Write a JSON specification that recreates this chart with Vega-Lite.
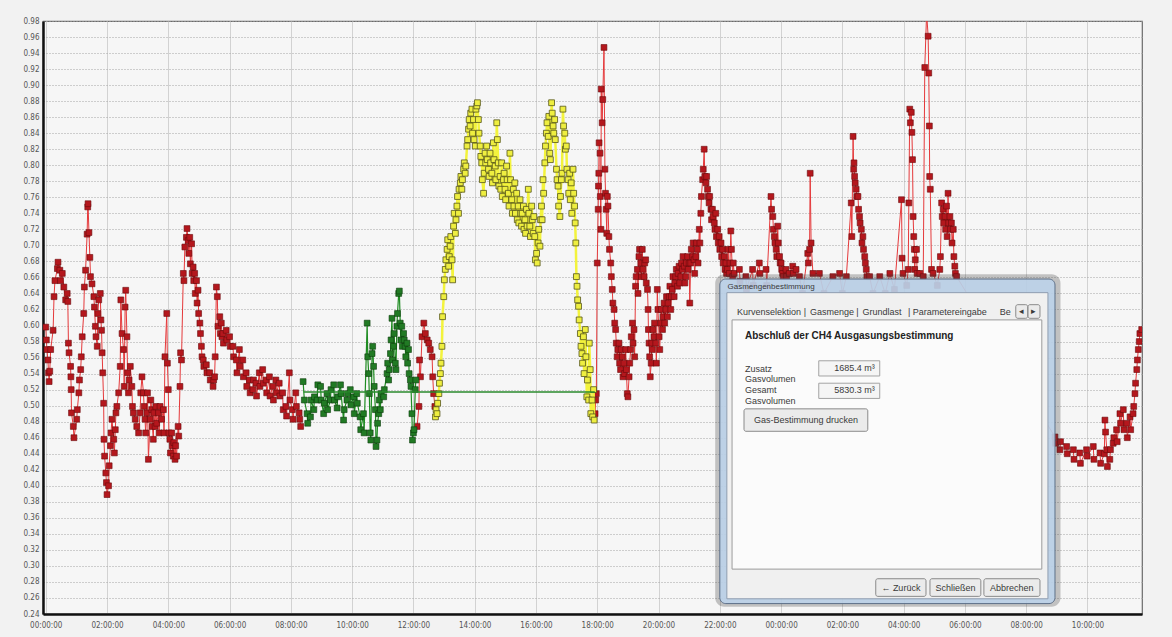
{
"$schema": "https://vega.github.io/schema/vega-lite/v6.json",
"width": 1099, "height": 593,
"autosize": {"type": "none"},
"padding": {"left": 43, "top": 21, "right": 30, "bottom": 23},
"background": "#f2f2f2",
"config": {"view": {"stroke": "#6a6a6a", "strokeWidth": 1.2, "fill": "#f6f6f6"}},
"datasets": {
"red": [
{"s":1,"t":0.00,"v":0.598},{"s":1,"t":0.02,"v":0.582},{"s":1,"t":0.04,"v":0.570},{"s":1,"t":0.07,"v":0.557},{"s":1,"t":0.09,"v":0.541},{"s":1,"t":0.11,"v":0.530},{"s":1,"t":0.13,"v":0.543},{"s":1,"t":0.16,"v":0.570},{"s":1,"t":0.24,"v":0.594},{"s":1,"t":0.27,"v":0.636},{"s":1,"t":0.30,"v":0.656},{"s":1,"t":0.38,"v":0.671},{"s":1,"t":0.40,"v":0.679},{"s":1,"t":0.46,"v":0.669},{"s":1,"t":0.48,"v":0.656},{"s":1,"t":0.54,"v":0.665},{"s":1,"t":0.59,"v":0.648},{"s":1,"t":0.65,"v":0.632},{"s":1,"t":0.70,"v":0.640},{"s":1,"t":0.72,"v":0.630},{"s":1,"t":0.74,"v":0.578},{"s":1,"t":0.76,"v":0.566},{"s":1,"t":0.81,"v":0.549},{"s":1,"t":0.82,"v":0.536},{"s":1,"t":0.83,"v":0.520},{"s":1,"t":0.84,"v":0.491},{"s":1,"t":0.90,"v":0.474},{"s":1,"t":0.92,"v":0.460},{"s":1,"t":1.01,"v":0.483},{"s":1,"t":1.03,"v":0.495},{"s":1,"t":1.08,"v":0.516},{"s":1,"t":1.10,"v":0.532},{"s":1,"t":1.14,"v":0.545},{"s":1,"t":1.16,"v":0.561},{"s":1,"t":1.19,"v":0.586},{"s":1,"t":1.24,"v":0.615},{"s":1,"t":1.26,"v":0.648},{"s":1,"t":1.30,"v":0.669},{"s":1,"t":1.35,"v":0.714},{"s":1,"t":1.37,"v":0.748},{"s":1,"t":1.38,"v":0.752},{"s":1,"t":1.41,"v":0.716},{"s":1,"t":1.44,"v":0.685},{"s":1,"t":1.46,"v":0.661},{"s":1,"t":1.51,"v":0.652},{"s":1,"t":1.57,"v":0.636},{"s":1,"t":1.59,"v":0.623},{"s":1,"t":1.62,"v":0.599},{"s":1,"t":1.64,"v":0.586},{"s":1,"t":1.68,"v":0.574},{"s":1,"t":1.70,"v":0.615},{"s":1,"t":1.73,"v":0.632},{"s":1,"t":1.78,"v":0.640},{"s":1,"t":1.80,"v":0.607},{"s":1,"t":1.82,"v":0.594},{"s":1,"t":1.84,"v":0.566},{"s":1,"t":1.86,"v":0.541},{"s":1,"t":1.89,"v":0.503},{"s":1,"t":1.90,"v":0.458},{"s":1,"t":1.92,"v":0.437},{"s":1,"t":1.96,"v":0.416},{"s":1,"t":1.98,"v":0.404},{"s":1,"t":2.00,"v":0.389},{"s":1,"t":2.05,"v":0.400},{"s":1,"t":2.07,"v":0.425},{"s":1,"t":2.11,"v":0.450},{"s":1,"t":2.13,"v":0.466},{"s":1,"t":2.16,"v":0.483},{"s":1,"t":2.22,"v":0.458},{"s":1,"t":2.24,"v":0.441},{"s":1,"t":2.27,"v":0.470},{"s":1,"t":2.29,"v":0.491},{"s":1,"t":2.32,"v":0.499},{"s":1,"t":2.38,"v":0.516},{"s":1,"t":2.43,"v":0.549},{"s":1,"t":2.45,"v":0.632},{"s":1,"t":2.49,"v":0.590},{"s":1,"t":2.54,"v":0.570},{"s":1,"t":2.56,"v":0.524},{"s":1,"t":2.59,"v":0.623},{"s":1,"t":2.61,"v":0.644},{"s":1,"t":2.65,"v":0.586},{"s":1,"t":2.67,"v":0.541},{"s":1,"t":2.70,"v":0.516},{"s":1,"t":2.72,"v":0.532},{"s":1,"t":2.76,"v":0.549},{"s":1,"t":2.81,"v":0.524},{"s":1,"t":2.83,"v":0.499},{"s":1,"t":2.86,"v":0.491},{"s":1,"t":2.92,"v":0.483},{"s":1,"t":2.97,"v":0.474},{"s":1,"t":3.03,"v":0.466},{"s":1,"t":3.08,"v":0.491},{"s":1,"t":3.10,"v":0.516},{"s":1,"t":3.14,"v":0.536},{"s":1,"t":3.19,"v":0.516},{"s":1,"t":3.21,"v":0.499},{"s":1,"t":3.24,"v":0.483},{"s":1,"t":3.26,"v":0.466},{"s":1,"t":3.30,"v":0.491},{"s":1,"t":3.32,"v":0.516},{"s":1,"t":3.35,"v":0.433},{"s":1,"t":3.41,"v":0.483},{"s":1,"t":3.43,"v":0.507},{"s":1,"t":3.46,"v":0.495},{"s":1,"t":3.48,"v":0.474},{"s":1,"t":3.51,"v":0.458},{"s":1,"t":3.53,"v":0.491},{"s":1,"t":3.57,"v":0.474},{"s":1,"t":3.59,"v":0.499},{"s":1,"t":3.62,"v":0.478},{"s":1,"t":3.68,"v":0.491},{"s":1,"t":3.70,"v":0.466},{"s":1,"t":3.73,"v":0.499},{"s":1,"t":3.78,"v":0.483},{"s":1,"t":3.84,"v":0.495},{"s":1,"t":3.86,"v":0.466},{"s":1,"t":3.89,"v":0.561},{"s":1,"t":3.95,"v":0.615},{"s":1,"t":3.97,"v":0.553},{"s":1,"t":4.00,"v":0.520},{"s":1,"t":4.02,"v":0.466},{"s":1,"t":4.05,"v":0.458},{"s":1,"t":4.07,"v":0.441},{"s":1,"t":4.11,"v":0.466},{"s":1,"t":4.13,"v":0.450},{"s":1,"t":4.16,"v":0.437},{"s":1,"t":4.18,"v":0.454},{"s":1,"t":4.22,"v":0.433},{"s":1,"t":4.24,"v":0.450},{"s":1,"t":4.27,"v":0.437},{"s":1,"t":4.32,"v":0.474},{"s":1,"t":4.34,"v":0.462},{"s":1,"t":4.38,"v":0.524},{"s":1,"t":4.40,"v":0.566},{"s":1,"t":4.43,"v":0.557},{"s":1,"t":4.49,"v":0.665},{"s":1,"t":4.51,"v":0.656},{"s":1,"t":4.54,"v":0.698},{"s":1,"t":4.59,"v":0.710},{"s":1,"t":4.61,"v":0.721},{"s":1,"t":4.65,"v":0.706},{"s":1,"t":4.67,"v":0.690},{"s":1,"t":4.70,"v":0.710},{"s":1,"t":4.72,"v":0.677},{"s":1,"t":4.76,"v":0.702},{"s":1,"t":4.78,"v":0.665},{"s":1,"t":4.81,"v":0.673},{"s":1,"t":4.83,"v":0.656},{"s":1,"t":4.86,"v":0.665},{"s":1,"t":4.88,"v":0.640},{"s":1,"t":4.92,"v":0.656},{"s":1,"t":4.94,"v":0.628},{"s":1,"t":4.97,"v":0.644},{"s":1,"t":4.99,"v":0.615},{"s":1,"t":5.03,"v":0.603},{"s":1,"t":5.05,"v":0.590},{"s":1,"t":5.08,"v":0.574},{"s":1,"t":5.10,"v":0.561},{"s":1,"t":5.14,"v":0.557},{"s":1,"t":5.16,"v":0.549},{"s":1,"t":5.24,"v":0.551},{"s":1,"t":5.26,"v":0.541},{"s":1,"t":5.35,"v":0.541},{"s":1,"t":5.37,"v":0.532},{"s":1,"t":5.46,"v":0.524},{"s":1,"t":5.48,"v":0.532},{"s":1,"t":5.51,"v":0.536},{"s":1,"t":5.53,"v":0.561},{"s":1,"t":5.57,"v":0.648},{"s":1,"t":5.60,"v":0.636},{"s":1,"t":5.62,"v":0.599},{"s":1,"t":5.68,"v":0.611},{"s":1,"t":5.70,"v":0.590},{"s":1,"t":5.73,"v":0.603},{"s":1,"t":5.75,"v":0.586},{"s":1,"t":5.78,"v":0.590},{"s":1,"t":5.80,"v":0.578},{"s":1,"t":5.89,"v":0.594},{"s":1,"t":5.91,"v":0.582},{"s":1,"t":6.00,"v":0.586},{"s":1,"t":6.02,"v":0.574},{"s":1,"t":6.11,"v":0.574},{"s":1,"t":6.13,"v":0.561},{"s":1,"t":6.22,"v":0.557},{"s":1,"t":6.24,"v":0.541},{"s":1,"t":6.32,"v":0.570},{"s":1,"t":6.34,"v":0.549},{"s":1,"t":6.43,"v":0.557},{"s":1,"t":6.45,"v":0.536},{"s":1,"t":6.54,"v":0.541},{"s":1,"t":6.56,"v":0.524},{"s":1,"t":6.65,"v":0.532},{"s":1,"t":6.67,"v":0.516},{"s":1,"t":6.76,"v":0.520},{"s":1,"t":6.78,"v":0.532},{"s":1,"t":6.86,"v":0.528},{"s":1,"t":6.88,"v":0.512},{"s":1,"t":6.97,"v":0.541},{"s":1,"t":6.99,"v":0.524},{"s":1,"t":7.08,"v":0.545},{"s":1,"t":7.10,"v":0.528},{"s":1,"t":7.19,"v":0.532},{"s":1,"t":7.21,"v":0.516},{"s":1,"t":7.30,"v":0.536},{"s":1,"t":7.32,"v":0.512},{"s":1,"t":7.41,"v":0.524},{"s":1,"t":7.43,"v":0.507},{"s":1,"t":7.51,"v":0.532},{"s":1,"t":7.53,"v":0.516},{"s":1,"t":7.62,"v":0.528},{"s":1,"t":7.64,"v":0.512},{"s":1,"t":7.73,"v":0.516},{"s":1,"t":7.75,"v":0.495},{"s":1,"t":7.84,"v":0.499},{"s":1,"t":7.86,"v":0.487},{"s":1,"t":7.95,"v":0.541},{"s":1,"t":7.97,"v":0.507},{"s":1,"t":8.05,"v":0.495},{"s":1,"t":8.07,"v":0.483},{"s":1,"t":8.16,"v":0.516},{"s":1,"t":8.18,"v":0.499},{"s":1,"t":8.27,"v":0.491},{"s":1,"t":8.29,"v":0.483},{"s":1,"t":8.32,"v":0.474},
{"s":2,"t":12.12,"v":0.474},{"s":2,"t":12.18,"v":0.499},{"s":2,"t":12.20,"v":0.557},{"s":2,"t":12.23,"v":0.536},{"s":2,"t":12.28,"v":0.586},{"s":2,"t":12.34,"v":0.603},{"s":2,"t":12.39,"v":0.590},{"s":2,"t":12.45,"v":0.582},{"s":2,"t":12.50,"v":0.578},{"s":2,"t":12.55,"v":0.570},{"s":2,"t":12.61,"v":0.561},{"s":2,"t":12.63,"v":0.536},{"s":2,"t":12.66,"v":0.515},{"s":2,"t":12.70,"v":0.499},
{"s":3,"t":17.93,"v":0.490},{"s":3,"t":17.95,"v":0.507},{"s":3,"t":17.97,"v":0.515},{"s":3,"t":18.00,"v":0.678},{"s":3,"t":18.03,"v":0.745},{"s":3,"t":18.04,"v":0.774},{"s":3,"t":18.05,"v":0.790},{"s":3,"t":18.06,"v":0.828},{"s":3,"t":18.09,"v":0.815},{"s":3,"t":18.10,"v":0.761},{"s":3,"t":18.12,"v":0.720},{"s":3,"t":18.13,"v":0.895},{"s":3,"t":18.16,"v":0.853},{"s":3,"t":18.18,"v":0.882},{"s":3,"t":18.22,"v":0.947},{"s":3,"t":18.25,"v":0.795},{"s":3,"t":18.27,"v":0.765},{"s":3,"t":18.29,"v":0.745},{"s":3,"t":18.31,"v":0.715},{"s":3,"t":18.33,"v":0.761},{"s":3,"t":18.35,"v":0.749},{"s":3,"t":18.38,"v":0.711},{"s":3,"t":18.40,"v":0.695},{"s":3,"t":18.44,"v":0.678},{"s":3,"t":18.46,"v":0.661},{"s":3,"t":18.49,"v":0.645},{"s":3,"t":18.51,"v":0.628},{"s":3,"t":18.55,"v":0.620},{"s":3,"t":18.57,"v":0.603},{"s":3,"t":18.60,"v":0.595},{"s":3,"t":18.62,"v":0.578},{"s":3,"t":18.65,"v":0.561},{"s":3,"t":18.67,"v":0.570},{"s":3,"t":18.71,"v":0.578},{"s":3,"t":18.73,"v":0.553},{"s":3,"t":18.76,"v":0.545},{"s":3,"t":18.78,"v":0.570},{"s":3,"t":18.82,"v":0.561},{"s":3,"t":18.84,"v":0.536},{"s":3,"t":18.87,"v":0.553},{"s":3,"t":18.89,"v":0.540},{"s":3,"t":18.93,"v":0.570},{"s":3,"t":18.95,"v":0.545},{"s":3,"t":18.98,"v":0.515},{"s":3,"t":19.00,"v":0.511},{"s":3,"t":19.04,"v":0.536},{"s":3,"t":19.06,"v":0.553},{"s":3,"t":19.09,"v":0.570},{"s":3,"t":19.11,"v":0.586},{"s":3,"t":19.15,"v":0.603},{"s":3,"t":19.17,"v":0.578},{"s":3,"t":19.20,"v":0.595},{"s":3,"t":19.22,"v":0.561},{"s":3,"t":19.25,"v":0.649},{"s":3,"t":19.27,"v":0.661},{"s":3,"t":19.31,"v":0.670},{"s":3,"t":19.33,"v":0.640},{"s":3,"t":19.36,"v":0.686},{"s":3,"t":19.38,"v":0.695},{"s":3,"t":19.42,"v":0.678},{"s":3,"t":19.44,"v":0.661},{"s":3,"t":19.47,"v":0.695},{"s":3,"t":19.49,"v":0.670},{"s":3,"t":19.53,"v":0.661},{"s":3,"t":19.55,"v":0.678},{"s":3,"t":19.58,"v":0.682},{"s":3,"t":19.60,"v":0.653},{"s":3,"t":19.64,"v":0.645},{"s":3,"t":19.66,"v":0.620},{"s":3,"t":19.67,"v":0.595},{"s":3,"t":19.69,"v":0.578},{"s":3,"t":19.71,"v":0.561},{"s":3,"t":19.73,"v":0.536},{"s":3,"t":19.76,"v":0.553},{"s":3,"t":19.78,"v":0.578},{"s":3,"t":19.80,"v":0.570},{"s":3,"t":19.82,"v":0.595},{"s":3,"t":19.85,"v":0.586},{"s":3,"t":19.87,"v":0.603},{"s":3,"t":19.91,"v":0.578},{"s":3,"t":19.93,"v":0.553},{"s":3,"t":19.96,"v":0.645},{"s":3,"t":19.98,"v":0.620},{"s":3,"t":20.02,"v":0.586},{"s":3,"t":20.04,"v":0.570},{"s":3,"t":20.07,"v":0.603},{"s":3,"t":20.09,"v":0.620},{"s":3,"t":20.13,"v":0.595},{"s":3,"t":20.15,"v":0.611},{"s":3,"t":20.18,"v":0.628},{"s":3,"t":20.20,"v":0.603},{"s":3,"t":20.24,"v":0.620},{"s":3,"t":20.26,"v":0.636},{"s":3,"t":20.29,"v":0.611},{"s":3,"t":20.31,"v":0.628},{"s":3,"t":20.35,"v":0.636},{"s":3,"t":20.37,"v":0.649},{"s":3,"t":20.40,"v":0.620},{"s":3,"t":20.42,"v":0.636},{"s":3,"t":20.45,"v":0.645},{"s":3,"t":20.47,"v":0.661},{"s":3,"t":20.51,"v":0.636},{"s":3,"t":20.53,"v":0.653},{"s":3,"t":20.56,"v":0.661},{"s":3,"t":20.58,"v":0.670},{"s":3,"t":20.62,"v":0.649},{"s":3,"t":20.64,"v":0.665},{"s":3,"t":20.67,"v":0.674},{"s":3,"t":20.69,"v":0.653},{"s":3,"t":20.73,"v":0.661},{"s":3,"t":20.75,"v":0.678},{"s":3,"t":20.78,"v":0.670},{"s":3,"t":20.80,"v":0.686},{"s":3,"t":20.84,"v":0.674},{"s":3,"t":20.86,"v":0.653},{"s":3,"t":20.89,"v":0.661},{"s":3,"t":20.91,"v":0.678},{"s":3,"t":20.95,"v":0.686},{"s":3,"t":20.97,"v":0.670},{"s":3,"t":21.00,"v":0.678},{"s":3,"t":21.02,"v":0.628},{"s":3,"t":21.05,"v":0.678},{"s":3,"t":21.07,"v":0.695},{"s":3,"t":21.11,"v":0.686},{"s":3,"t":21.13,"v":0.703},{"s":3,"t":21.16,"v":0.682},{"s":3,"t":21.18,"v":0.665},{"s":3,"t":21.22,"v":0.686},{"s":3,"t":21.24,"v":0.703},{"s":3,"t":21.27,"v":0.695},{"s":3,"t":21.29,"v":0.678},{"s":3,"t":21.33,"v":0.720},{"s":3,"t":21.35,"v":0.703},{"s":3,"t":21.38,"v":0.740},{"s":3,"t":21.40,"v":0.761},{"s":3,"t":21.44,"v":0.782},{"s":3,"t":21.46,"v":0.795},{"s":3,"t":21.49,"v":0.820},{"s":3,"t":21.51,"v":0.786},{"s":3,"t":21.55,"v":0.778},{"s":3,"t":21.57,"v":0.786},{"s":3,"t":21.60,"v":0.770},{"s":3,"t":21.62,"v":0.761},{"s":3,"t":21.65,"v":0.753},{"s":3,"t":21.67,"v":0.761},{"s":3,"t":21.71,"v":0.745},{"s":3,"t":21.73,"v":0.732},{"s":3,"t":21.76,"v":0.745},{"s":3,"t":21.78,"v":0.736},{"s":3,"t":21.82,"v":0.728},{"s":3,"t":21.84,"v":0.720},{"s":3,"t":21.87,"v":0.740},{"s":3,"t":21.89,"v":0.711},{"s":3,"t":21.93,"v":0.720},{"s":3,"t":21.95,"v":0.703},{"s":3,"t":21.98,"v":0.711},{"s":3,"t":22.00,"v":0.695},{"s":3,"t":22.04,"v":0.703},{"s":3,"t":22.06,"v":0.686},{"s":3,"t":22.09,"v":0.695},{"s":3,"t":22.11,"v":0.678},{"s":3,"t":22.15,"v":0.686},{"s":3,"t":22.17,"v":0.670},{"s":3,"t":22.20,"v":0.678},{"s":3,"t":22.22,"v":0.665},{"s":3,"t":22.25,"v":0.670},{"s":3,"t":22.27,"v":0.695},{"s":3,"t":22.31,"v":0.665},{"s":3,"t":22.33,"v":0.678},{"s":3,"t":22.36,"v":0.718},{"s":3,"t":22.38,"v":0.695},{"s":3,"t":22.42,"v":0.661},{"s":3,"t":22.44,"v":0.678},{"s":3,"t":22.47,"v":0.665},{"s":3,"t":22.64,"v":0.670},{"s":3,"t":22.66,"v":0.655},{"s":3,"t":22.85,"v":0.661},{"s":3,"t":22.87,"v":0.645},{"s":3,"t":23.07,"v":0.670},{"s":3,"t":23.09,"v":0.650},{"s":3,"t":23.29,"v":0.678},{"s":3,"t":23.31,"v":0.665},{"s":3,"t":23.51,"v":0.670},{"s":3,"t":23.53,"v":0.650},{"s":3,"t":23.67,"v":0.761},{"s":3,"t":23.69,"v":0.745},{"s":3,"t":23.73,"v":0.736},{"s":3,"t":23.75,"v":0.720},{"s":3,"t":23.78,"v":0.711},{"s":3,"t":23.80,"v":0.703},{"s":3,"t":23.84,"v":0.695},{"s":3,"t":23.86,"v":0.686},{"s":3,"t":23.89,"v":0.724},{"s":3,"t":23.91,"v":0.703},{"s":3,"t":23.95,"v":0.686},{"s":3,"t":23.97,"v":0.678},{"s":3,"t":24.00,"v":0.678},{"s":3,"t":24.02,"v":0.670},{"s":3,"t":24.05,"v":0.665},{"s":3,"t":24.07,"v":0.661},{"s":3,"t":24.16,"v":0.670},{"s":3,"t":24.18,"v":0.661},{"s":3,"t":24.27,"v":0.665},{"s":3,"t":24.38,"v":0.674},{"s":3,"t":24.40,"v":0.665},{"s":3,"t":24.49,"v":0.670},{"s":3,"t":24.60,"v":0.661},{"s":3,"t":24.70,"v":0.640},{"s":3,"t":24.87,"v":0.690},{"s":3,"t":24.89,"v":0.678},{"s":3,"t":24.93,"v":0.695},{"s":3,"t":24.95,"v":0.790},{"s":3,"t":24.98,"v":0.703},{"s":3,"t":25.04,"v":0.665},{"s":3,"t":25.25,"v":0.665},{"s":3,"t":25.40,"v":0.640},{"s":3,"t":25.69,"v":0.661},{"s":3,"t":25.91,"v":0.665},{"s":3,"t":26.00,"v":0.640},{"s":3,"t":26.13,"v":0.661},{"s":3,"t":26.29,"v":0.753},{"s":3,"t":26.31,"v":0.711},{"s":3,"t":26.35,"v":0.836},{"s":3,"t":26.37,"v":0.795},{"s":3,"t":26.38,"v":0.803},{"s":3,"t":26.40,"v":0.786},{"s":3,"t":26.42,"v":0.778},{"s":3,"t":26.45,"v":0.770},{"s":3,"t":26.47,"v":0.761},{"s":3,"t":26.51,"v":0.761},{"s":3,"t":26.53,"v":0.745},{"s":3,"t":26.56,"v":0.736},{"s":3,"t":26.58,"v":0.728},{"s":3,"t":26.62,"v":0.720},{"s":3,"t":26.64,"v":0.703},{"s":3,"t":26.67,"v":0.711},{"s":3,"t":26.69,"v":0.695},{"s":3,"t":26.73,"v":0.686},{"s":3,"t":26.75,"v":0.678},{"s":3,"t":26.78,"v":0.670},{"s":3,"t":26.80,"v":0.661},{"s":3,"t":26.89,"v":0.661},{"s":3,"t":27.00,"v":0.640},{"s":3,"t":27.22,"v":0.661},{"s":3,"t":27.40,"v":0.640},{"s":3,"t":27.55,"v":0.665},{"s":3,"t":27.70,"v":0.645},{"s":3,"t":27.93,"v":0.757},{"s":3,"t":27.95,"v":0.684},{"s":3,"t":27.98,"v":0.665},{"s":3,"t":28.10,"v":0.650},{"s":3,"t":28.15,"v":0.670},{"s":3,"t":28.17,"v":0.753},{"s":3,"t":28.20,"v":0.870},{"s":3,"t":28.22,"v":0.853},{"s":3,"t":28.25,"v":0.866},{"s":3,"t":28.27,"v":0.841},{"s":3,"t":28.29,"v":0.807},{"s":3,"t":28.31,"v":0.736},{"s":3,"t":28.33,"v":0.711},{"s":3,"t":28.35,"v":0.695},{"s":3,"t":28.36,"v":0.670},{"s":3,"t":28.38,"v":0.682},{"s":3,"t":28.42,"v":0.695},{"s":3,"t":28.44,"v":0.665},{"s":3,"t":28.53,"v":0.665},{"s":3,"t":28.64,"v":0.661},{"s":3,"t":28.69,"v":0.922},{"s":3,"t":28.75,"v":0.990},{"s":3,"t":28.80,"v":0.961},{"s":3,"t":28.82,"v":0.915},{"s":3,"t":28.84,"v":0.849},{"s":3,"t":28.85,"v":0.786},{"s":3,"t":28.87,"v":0.770},{"s":3,"t":28.91,"v":0.670},{"s":3,"t":28.96,"v":0.665},{"s":3,"t":29.10,"v":0.650},{"s":3,"t":29.18,"v":0.670},{"s":3,"t":29.20,"v":0.686},{"s":3,"t":29.24,"v":0.753},{"s":3,"t":29.26,"v":0.736},{"s":3,"t":29.29,"v":0.745},{"s":3,"t":29.31,"v":0.728},{"s":3,"t":29.35,"v":0.736},{"s":3,"t":29.37,"v":0.720},{"s":3,"t":29.40,"v":0.749},{"s":3,"t":29.42,"v":0.711},{"s":3,"t":29.45,"v":0.765},{"s":3,"t":29.47,"v":0.728},{"s":3,"t":29.51,"v":0.736},{"s":3,"t":29.53,"v":0.720},{"s":3,"t":29.56,"v":0.728},{"s":3,"t":29.58,"v":0.703},{"s":3,"t":29.62,"v":0.720},{"s":3,"t":29.64,"v":0.686},{"s":3,"t":29.67,"v":0.674},{"s":3,"t":29.69,"v":0.665},{"s":3,"t":29.73,"v":0.661},
{"s":3,"t":32.94,"v":0.461},{"s":3,"t":32.96,"v":0.453},{"s":3,"t":33.10,"v":0.445},{"s":3,"t":33.12,"v":0.455},{"s":3,"t":33.32,"v":0.449},{"s":3,"t":33.34,"v":0.440},{"s":3,"t":33.54,"v":0.445},{"s":3,"t":33.56,"v":0.433},{"s":3,"t":33.75,"v":0.441},{"s":3,"t":33.77,"v":0.428},{"s":3,"t":33.97,"v":0.445},{"s":3,"t":33.99,"v":0.437},{"s":3,"t":34.19,"v":0.449},{"s":3,"t":34.21,"v":0.433},{"s":3,"t":34.41,"v":0.441},{"s":3,"t":34.43,"v":0.428},{"s":3,"t":34.55,"v":0.440},{"s":3,"t":34.57,"v":0.482},{"s":3,"t":34.59,"v":0.467},{"s":3,"t":34.63,"v":0.445},{"s":3,"t":34.65,"v":0.424},{"s":3,"t":34.73,"v":0.433},{"s":3,"t":34.75,"v":0.445},{"s":3,"t":34.84,"v":0.453},{"s":3,"t":34.86,"v":0.460},{"s":3,"t":34.95,"v":0.470},{"s":3,"t":34.97,"v":0.455},{"s":3,"t":35.06,"v":0.490},{"s":3,"t":35.08,"v":0.478},{"s":3,"t":35.17,"v":0.495},{"s":3,"t":35.19,"v":0.470},{"s":3,"t":35.28,"v":0.478},{"s":3,"t":35.30,"v":0.460},{"s":3,"t":35.39,"v":0.486},{"s":3,"t":35.41,"v":0.470},{"s":3,"t":35.49,"v":0.490},{"s":3,"t":35.51,"v":0.499},{"s":3,"t":35.55,"v":0.515},{"s":3,"t":35.57,"v":0.528},{"s":3,"t":35.61,"v":0.545},{"s":3,"t":35.63,"v":0.557},{"s":3,"t":35.66,"v":0.570},{"s":3,"t":35.69,"v":0.580},{"s":3,"t":35.71,"v":0.590},{"s":3,"t":35.77,"v":0.595}
],
"green": [
{"t":8.40,"v":0.530},{"t":8.44,"v":0.507},{"t":8.53,"v":0.490},{"t":8.55,"v":0.478},{"t":8.64,"v":0.486},{"t":8.66,"v":0.507},{"t":8.75,"v":0.495},{"t":8.77,"v":0.511},{"t":8.86,"v":0.507},{"t":8.88,"v":0.526},{"t":8.97,"v":0.524},{"t":8.99,"v":0.507},{"t":9.07,"v":0.490},{"t":9.09,"v":0.503},{"t":9.18,"v":0.515},{"t":9.20,"v":0.495},{"t":9.29,"v":0.507},{"t":9.31,"v":0.520},{"t":9.40,"v":0.526},{"t":9.42,"v":0.507},{"t":9.51,"v":0.497},{"t":9.53,"v":0.511},{"t":9.62,"v":0.526},{"t":9.64,"v":0.515},{"t":9.72,"v":0.482},{"t":9.74,"v":0.495},{"t":9.83,"v":0.507},{"t":9.85,"v":0.515},{"t":9.94,"v":0.520},{"t":9.96,"v":0.501},{"t":10.05,"v":0.511},{"t":10.07,"v":0.490},{"t":10.15,"v":0.515},{"t":10.17,"v":0.503},{"t":10.26,"v":0.486},{"t":10.28,"v":0.470},{"t":10.37,"v":0.490},{"t":10.39,"v":0.466},{"t":10.49,"v":0.603},{"t":10.51,"v":0.561},{"t":10.54,"v":0.540},{"t":10.56,"v":0.515},{"t":10.59,"v":0.466},{"t":10.61,"v":0.457},{"t":10.65,"v":0.565},{"t":10.67,"v":0.574},{"t":10.70,"v":0.549},{"t":10.72,"v":0.524},{"t":10.76,"v":0.495},{"t":10.78,"v":0.449},{"t":10.81,"v":0.457},{"t":10.83,"v":0.478},{"t":10.87,"v":0.490},{"t":10.89,"v":0.507},{"t":10.92,"v":0.495},{"t":10.94,"v":0.515},{"t":11.03,"v":0.511},{"t":11.05,"v":0.520},{"t":11.14,"v":0.540},{"t":11.16,"v":0.553},{"t":11.19,"v":0.532},{"t":11.21,"v":0.545},{"t":11.25,"v":0.565},{"t":11.27,"v":0.582},{"t":11.30,"v":0.609},{"t":11.32,"v":0.557},{"t":11.35,"v":0.574},{"t":11.37,"v":0.590},{"t":11.41,"v":0.553},{"t":11.43,"v":0.545},{"t":11.46,"v":0.599},{"t":11.48,"v":0.615},{"t":11.52,"v":0.640},{"t":11.54,"v":0.643},{"t":11.57,"v":0.603},{"t":11.59,"v":0.582},{"t":11.62,"v":0.599},{"t":11.64,"v":0.574},{"t":11.68,"v":0.590},{"t":11.70,"v":0.582},{"t":11.73,"v":0.574},{"t":11.75,"v":0.561},{"t":11.79,"v":0.578},{"t":11.81,"v":0.553},{"t":11.84,"v":0.570},{"t":11.86,"v":0.540},{"t":11.90,"v":0.532},{"t":11.92,"v":0.524},{"t":11.95,"v":0.490},{"t":11.97,"v":0.457},{"t":12.00,"v":0.466},{"t":12.02,"v":0.470},{"t":12.06,"v":0.520},{"t":12.08,"v":0.532}
],
"yellow": [
{"t":12.72,"v":0.486},{"t":12.74,"v":0.495},{"t":12.77,"v":0.490},{"t":12.79,"v":0.503},{"t":12.83,"v":0.515},{"t":12.85,"v":0.528},{"t":12.88,"v":0.540},{"t":12.90,"v":0.553},{"t":12.93,"v":0.574},{"t":12.95,"v":0.611},{"t":12.99,"v":0.636},{"t":13.01,"v":0.657},{"t":13.04,"v":0.670},{"t":13.06,"v":0.682},{"t":13.10,"v":0.695},{"t":13.12,"v":0.707},{"t":13.15,"v":0.674},{"t":13.17,"v":0.686},{"t":13.20,"v":0.699},{"t":13.22,"v":0.711},{"t":13.26,"v":0.682},{"t":13.28,"v":0.657},{"t":13.31,"v":0.724},{"t":13.33,"v":0.740},{"t":13.37,"v":0.715},{"t":13.39,"v":0.732},{"t":13.42,"v":0.749},{"t":13.44,"v":0.761},{"t":13.47,"v":0.740},{"t":13.49,"v":0.770},{"t":13.53,"v":0.778},{"t":13.55,"v":0.786},{"t":13.58,"v":0.770},{"t":13.60,"v":0.782},{"t":13.64,"v":0.795},{"t":13.66,"v":0.803},{"t":13.69,"v":0.790},{"t":13.71,"v":0.799},{"t":13.75,"v":0.824},{"t":13.77,"v":0.832},{"t":13.80,"v":0.845},{"t":13.82,"v":0.857},{"t":13.85,"v":0.849},{"t":13.87,"v":0.865},{"t":13.91,"v":0.870},{"t":13.93,"v":0.840},{"t":13.96,"v":0.857},{"t":13.98,"v":0.832},{"t":14.02,"v":0.824},{"t":14.04,"v":0.870},{"t":14.07,"v":0.874},{"t":14.09,"v":0.878},{"t":14.12,"v":0.857},{"t":14.14,"v":0.840},{"t":14.18,"v":0.824},{"t":14.20,"v":0.811},{"t":14.23,"v":0.803},{"t":14.25,"v":0.782},{"t":14.29,"v":0.765},{"t":14.31,"v":0.790},{"t":14.34,"v":0.815},{"t":14.36,"v":0.803},{"t":14.39,"v":0.824},{"t":14.41,"v":0.807},{"t":14.45,"v":0.795},{"t":14.47,"v":0.786},{"t":14.50,"v":0.815},{"t":14.52,"v":0.803},{"t":14.56,"v":0.790},{"t":14.58,"v":0.778},{"t":14.61,"v":0.828},{"t":14.63,"v":0.807},{"t":14.67,"v":0.799},{"t":14.69,"v":0.782},{"t":14.72,"v":0.853},{"t":14.74,"v":0.832},{"t":14.77,"v":0.803},{"t":14.79,"v":0.774},{"t":14.83,"v":0.786},{"t":14.85,"v":0.770},{"t":14.88,"v":0.803},{"t":14.90,"v":0.761},{"t":14.94,"v":0.782},{"t":14.96,"v":0.790},{"t":14.99,"v":0.770},{"t":15.01,"v":0.757},{"t":15.04,"v":0.799},{"t":15.06,"v":0.782},{"t":15.10,"v":0.765},{"t":15.12,"v":0.749},{"t":15.15,"v":0.815},{"t":15.17,"v":0.782},{"t":15.21,"v":0.757},{"t":15.23,"v":0.740},{"t":15.26,"v":0.770},{"t":15.28,"v":0.749},{"t":15.31,"v":0.778},{"t":15.33,"v":0.740},{"t":15.37,"v":0.765},{"t":15.39,"v":0.732},{"t":15.42,"v":0.749},{"t":15.44,"v":0.728},{"t":15.48,"v":0.757},{"t":15.50,"v":0.740},{"t":15.53,"v":0.724},{"t":15.55,"v":0.740},{"t":15.59,"v":0.749},{"t":15.61,"v":0.720},{"t":15.64,"v":0.732},{"t":15.66,"v":0.715},{"t":15.69,"v":0.745},{"t":15.71,"v":0.724},{"t":15.75,"v":0.770},{"t":15.77,"v":0.740},{"t":15.80,"v":0.724},{"t":15.82,"v":0.711},{"t":15.86,"v":0.749},{"t":15.88,"v":0.732},{"t":15.91,"v":0.715},{"t":15.93,"v":0.736},{"t":15.96,"v":0.711},{"t":15.98,"v":0.682},{"t":16.02,"v":0.690},{"t":16.04,"v":0.678},{"t":16.07,"v":0.703},{"t":16.09,"v":0.720},{"t":16.13,"v":0.699},{"t":16.15,"v":0.732},{"t":16.18,"v":0.749},{"t":16.20,"v":0.732},{"t":16.23,"v":0.782},{"t":16.25,"v":0.765},{"t":16.29,"v":0.803},{"t":16.31,"v":0.824},{"t":16.34,"v":0.840},{"t":16.36,"v":0.853},{"t":16.40,"v":0.836},{"t":16.42,"v":0.861},{"t":16.45,"v":0.815},{"t":16.47,"v":0.807},{"t":16.51,"v":0.878},{"t":16.53,"v":0.865},{"t":16.56,"v":0.849},{"t":16.58,"v":0.840},{"t":16.61,"v":0.857},{"t":16.63,"v":0.832},{"t":16.67,"v":0.795},{"t":16.69,"v":0.782},{"t":16.72,"v":0.774},{"t":16.74,"v":0.749},{"t":16.78,"v":0.736},{"t":16.80,"v":0.761},{"t":16.83,"v":0.782},{"t":16.85,"v":0.790},{"t":16.88,"v":0.870},{"t":16.90,"v":0.849},{"t":16.94,"v":0.840},{"t":16.96,"v":0.820},{"t":16.99,"v":0.824},{"t":17.01,"v":0.795},{"t":17.05,"v":0.782},{"t":17.07,"v":0.765},{"t":17.10,"v":0.790},{"t":17.12,"v":0.757},{"t":17.15,"v":0.778},{"t":17.17,"v":0.740},{"t":17.21,"v":0.795},{"t":17.23,"v":0.765},{"t":17.26,"v":0.749},{"t":17.28,"v":0.728},{"t":17.30,"v":0.703},{"t":17.32,"v":0.661},{"t":17.34,"v":0.649},{"t":17.36,"v":0.632},{"t":17.39,"v":0.624},{"t":17.41,"v":0.607},{"t":17.45,"v":0.590},{"t":17.47,"v":0.574},{"t":17.50,"v":0.565},{"t":17.52,"v":0.553},{"t":17.55,"v":0.586},{"t":17.57,"v":0.540},{"t":17.61,"v":0.595},{"t":17.63,"v":0.561},{"t":17.66,"v":0.511},{"t":17.68,"v":0.532},{"t":17.72,"v":0.507},{"t":17.74,"v":0.578},{"t":17.77,"v":0.545},{"t":17.79,"v":0.490},{"t":17.83,"v":0.507},{"t":17.85,"v":0.486},{"t":17.88,"v":0.520},{"t":17.90,"v":0.482}
],
"base": [{"t":8.42,"v":0.517},{"t":17.92,"v":0.517}],
"shadow": [{"t":21.85,"t2":33.12,"v":0.664,"v2":0.249}],
"frame": [{"t":22.0,"t2":32.94,"v":0.658,"v2":0.253}],
"body": [{"t":22.23,"t2":32.71,"v":0.641,"v2":0.259}],
"panel": [{"t":22.40,"t2":32.51,"v":0.607,"v2":0.296}],
"boxes": [{"t":25.23,"t2":27.22,"v":0.556,"v2":0.537},{"t":25.23,"t2":27.22,"v":0.528,"v2":0.509}],
"buttons": [{"t":22.79,"t2":26.83,"v":0.496,"v2":0.468},{"t":27.09,"t2":28.73,"v":0.284,"v2":0.262},{"t":28.86,"t2":30.52,"v":0.284,"v2":0.262},{"t":30.62,"t2":32.45,"v":0.284,"v2":0.262},{"t":31.66,"t2":32.05,"v":0.626,"v2":0.609},{"t":32.06,"t2":32.45,"v":0.626,"v2":0.609}],
"title": [{"t":22.25,"v":0.648,"label":"Gasmengenbestimmung"}],
"textLeft": [{"t":22.56,"v":0.617,"label":"Kurvenselektion"},{"t":24.74,"v":0.617,"label":"|"},{"t":24.94,"v":0.617,"label":"Gasmenge"},{"t":26.45,"v":0.617,"label":"|"},{"t":26.66,"v":0.617,"label":"Grundlast"},{"t":28.14,"v":0.617,"label":"|"},{"t":28.30,"v":0.617,"label":"Parametereingabe"},{"t":31.14,"v":0.617,"label":"Be"},{"t":22.82,"v":0.546,"label":"Zusatz"},{"t":22.82,"v":0.533,"label":"Gasvolumen"},{"t":22.82,"v":0.519,"label":"Gesamt"},{"t":22.82,"v":0.506,"label":"Gasvolumen"}],
"textRight": [{"t":27.06,"v":0.547,"label":"1685.4 m³"},{"t":27.06,"v":0.519,"label":"5830.3 m³"}],
"textBold": [{"t":22.82,"v":0.587,"label":"Abschluß der CH4 Ausgasungsbestimmung"}],
"textCenter": [{"t":24.81,"v":0.482,"label":"Gas-Bestimmung drucken"},{"t":27.91,"v":0.273,"label":"← Zurück"},{"t":29.69,"v":0.273,"label":"Schließen"},{"t":31.53,"v":0.273,"label":"Abbrechen"},{"t":31.86,"v":0.6175,"label":"◂"},{"t":32.25,"v":0.6175,"label":"▸"}]
},
"encoding": {
"x": {"field": "t", "type": "quantitative",
 "scale": {"domain": [-0.09, 35.78], "nice": false, "zero": false},
 "axis": {"title": null, "values": [0,2,4,6,8,10,12,14,16,18,20,22,24,26,28,30,32,34],
  "labelExpr": "(datum.value % 24 < 10 ? '0' : '') + (datum.value % 24) + ':00:00'",
  "grid": true, "gridColor": "#d2d2d2", "gridWidth": 1, "ticks": false,
  "domainColor": "#111111", "domainWidth": 2.5, "labelFontSize": 8, "labelColor": "#555555",
  "labelFont": "Liberation Sans Narrow, DejaVu Sans Condensed, sans-serif", "labelPadding": 7, "labelFlush": false}},
"y": {"field": "v", "type": "quantitative",
 "scale": {"domain": [0.24, 0.98], "nice": false, "zero": false},
 "axis": {"title": null, "values": [0.24,0.26,0.28,0.30,0.32,0.34,0.36,0.38,0.40,0.42,0.44,0.46,0.48,0.50,0.52,0.54,0.56,0.58,0.60,0.62,0.64,0.66,0.68,0.70,0.72,0.74,0.76,0.78,0.80,0.82,0.84,0.86,0.88,0.90,0.92,0.94,0.96,0.98],
  "format": ".2f", "grid": true, "gridColor": "#a4a4a4", "gridDash": [1, 2], "gridWidth": 1, "ticks": false,
  "domainColor": "#111111", "domainWidth": 2.5, "labelFontSize": 8, "labelColor": "#555555",
  "labelFont": "Liberation Sans Narrow, DejaVu Sans Condensed, sans-serif", "labelPadding": 4, "labelFlush": false}}
},
"layer": [
{"data": {"name": "red"}, "mark": {"type": "line", "stroke": "#e5393b", "strokeWidth": 1, "clip": true}, "encoding": {"detail": {"field": "s"}}},
{"data": {"name": "red"}, "mark": {"type": "point", "shape": "square", "filled": true, "size": 34, "fill": "#b4171d", "stroke": "#6a0a0c", "strokeWidth": 0.6, "opacity": 1, "clip": true}},
{"data": {"name": "green"}, "mark": {"type": "line", "stroke": "#1f8c22", "strokeWidth": 1.2}},
{"data": {"name": "green"}, "mark": {"type": "point", "shape": "square", "filled": true, "size": 34, "fill": "#217a24", "stroke": "#0b3d0c", "strokeWidth": 0.6, "opacity": 1}},
{"data": {"name": "yellow"}, "mark": {"type": "line", "stroke": "#f3f33c", "strokeWidth": 2.5}},
{"data": {"name": "yellow"}, "mark": {"type": "point", "shape": "square", "filled": true, "size": 34, "fill": "#eeee40", "stroke": "#55551a", "strokeWidth": 0.8, "opacity": 1}},
{"data": {"name": "base"}, "mark": {"type": "line", "stroke": "#2a8a2c", "strokeWidth": 1.6}},
{"data": {"name": "shadow"}, "mark": {"type": "rect", "fill": "#3a3a3a", "opacity": 0.28, "cornerRadius": 9}, "encoding": {"x2": {"field": "t2"}, "y2": {"field": "v2"}}},
{"data": {"name": "frame"}, "mark": {"type": "rect", "fill": "#bdd3ea", "fillOpacity": 0.9, "stroke": "#5d6f88", "strokeWidth": 1, "cornerRadius": 6}, "encoding": {"x2": {"field": "t2"}, "y2": {"field": "v2"}}},
{"data": {"name": "body"}, "mark": {"type": "rect", "fill": "#f0f0f0", "stroke": "#8f9db0", "strokeWidth": 1}, "encoding": {"x2": {"field": "t2"}, "y2": {"field": "v2"}}},
{"data": {"name": "panel"}, "mark": {"type": "rect", "fill": "#fbfbfb", "stroke": "#9c9c9c", "strokeWidth": 1}, "encoding": {"x2": {"field": "t2"}, "y2": {"field": "v2"}}},
{"data": {"name": "boxes"}, "mark": {"type": "rect", "fill": "#f5f5f5", "stroke": "#a3a3a3", "strokeWidth": 1}, "encoding": {"x2": {"field": "t2"}, "y2": {"field": "v2"}}},
{"data": {"name": "buttons"}, "mark": {"type": "rect", "fill": "#ebebeb", "stroke": "#8a8a8a", "strokeWidth": 1, "cornerRadius": 2}, "encoding": {"x2": {"field": "t2"}, "y2": {"field": "v2"}}},
{"data": {"name": "title"}, "mark": {"type": "text", "align": "left", "baseline": "middle", "fontSize": 8, "color": "#3a3a3a", "font": "Liberation Sans, Arial, sans-serif"}, "encoding": {"text": {"field": "label"}}},
{"data": {"name": "textLeft"}, "mark": {"type": "text", "align": "left", "baseline": "middle", "fontSize": 9, "color": "#3a3a3a", "font": "Liberation Sans, Arial, sans-serif"}, "encoding": {"text": {"field": "label"}}},
{"data": {"name": "textRight"}, "mark": {"type": "text", "align": "right", "baseline": "middle", "fontSize": 9, "color": "#3a3a3a", "font": "Liberation Sans, Arial, sans-serif"}, "encoding": {"text": {"field": "label"}}},
{"data": {"name": "textBold"}, "mark": {"type": "text", "align": "left", "baseline": "middle", "fontSize": 10, "fontWeight": "bold", "color": "#222222", "font": "Liberation Sans, Arial, sans-serif"}, "encoding": {"text": {"field": "label"}}},
{"data": {"name": "textCenter"}, "mark": {"type": "text", "align": "center", "baseline": "middle", "fontSize": 9, "color": "#3a3a3a", "font": "Liberation Sans, Arial, sans-serif"}, "encoding": {"text": {"field": "label"}}}
]
}
